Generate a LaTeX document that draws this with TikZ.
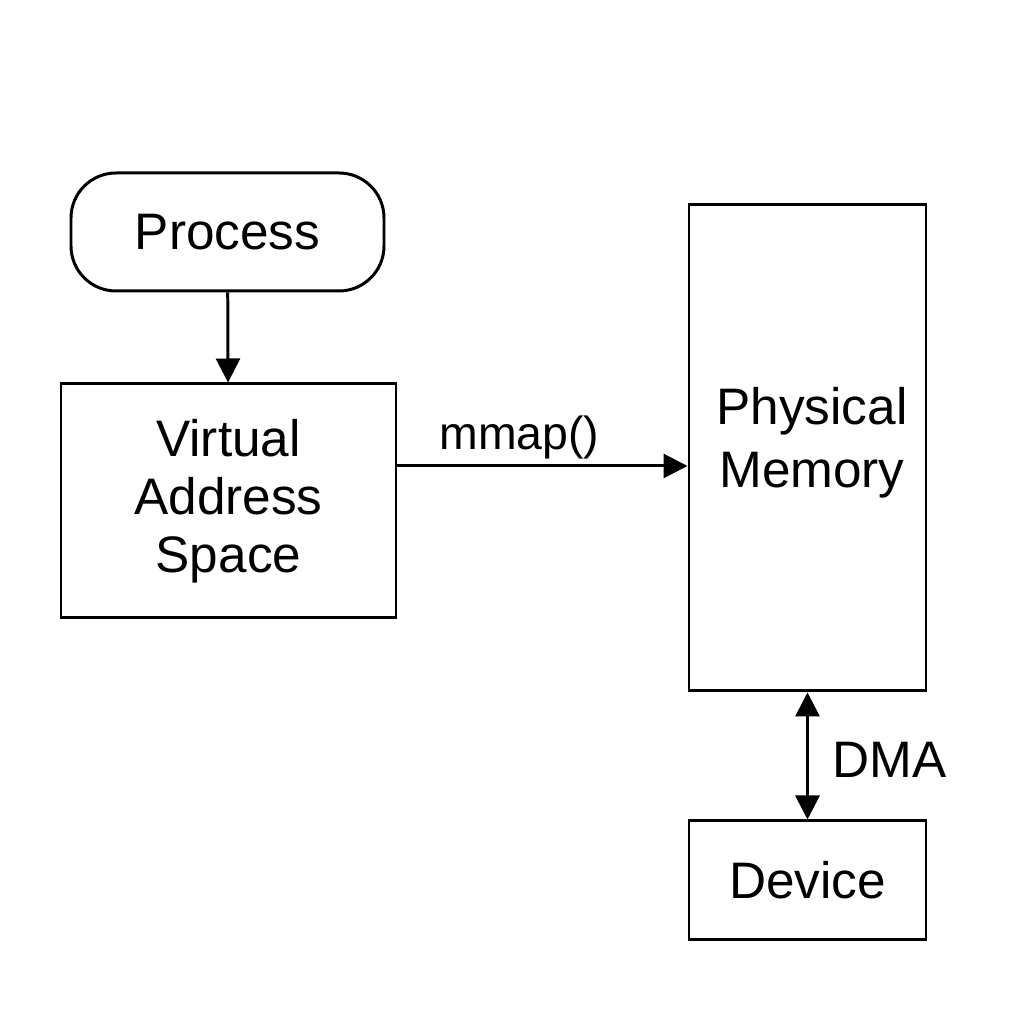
\documentclass[tikz,border=0pt]{standalone}
\usepackage{fontspec}
\setmainfont{Liberation Sans}
\usetikzlibrary{positioning,arrows.meta}

\begin{document}
\begin{tikzpicture}[scale=1
        , node distance = 2cm
        , every path/.style={ line width=0.85pt }
        , every node/.style={ font=\fontsize{14.6}{16.5}\selectfont }
        , box/.style={ draw, rectangle, align=center, inner sep=0pt }
        , arr/.style={ -{Triangle[length=0.24cm,width=0.24cm]} }
        , darr/.style={ {Triangle[length=0.24cm,width=0.24cm]}-{Triangle[length=0.24cm,width=0.24cm]} }
        ]

        \useasboundingbox (0,0) rectangle (10.24,-10.23);

        \node[box, rounded corners=0.45cm, minimum width=3.13cm, minimum height=1.18cm]
            (proc) at (2.275,-2.32) {\raisebox{-0.04cm}{Process}};

        \node[box, minimum width=3.35cm, minimum height=2.34cm]
            (vas) at (2.285,-5.01) {Virtual\\Address\\Space};

        \node[box, minimum width=2.37cm, minimum height=4.86cm] (pm) at (8.075,-4.48) {};
        \node[align=center, font=\fontsize{14.6}{18}\selectfont] (pmtext) at (8.12,-4.43) {Physical\\Memory};

        \node[box, minimum width=2.37cm, minimum height=1.19cm] (dev) at (8.075,-8.805) {Device};

        % the process works on its virtual addresses
        \draw[arr] (proc) -- (vas);

        % mmap() maps them onto physical memory
        \draw[arr] ([yshift=0.35cm]vas.east) -- ([yshift=0.35cm]vas.east -| pm.west)
            node[pos=.42, above=-0.06cm, font=\fontsize{13.2}{15}\selectfont] (mmap) {mmap()};

        % device talks to memory directly
        \draw[darr] (pm) -- (dev)
            node[pos=.5, right=0.12cm, yshift=-0.04cm] (dma) {DMA};

    \end{tikzpicture}
\end{document}
